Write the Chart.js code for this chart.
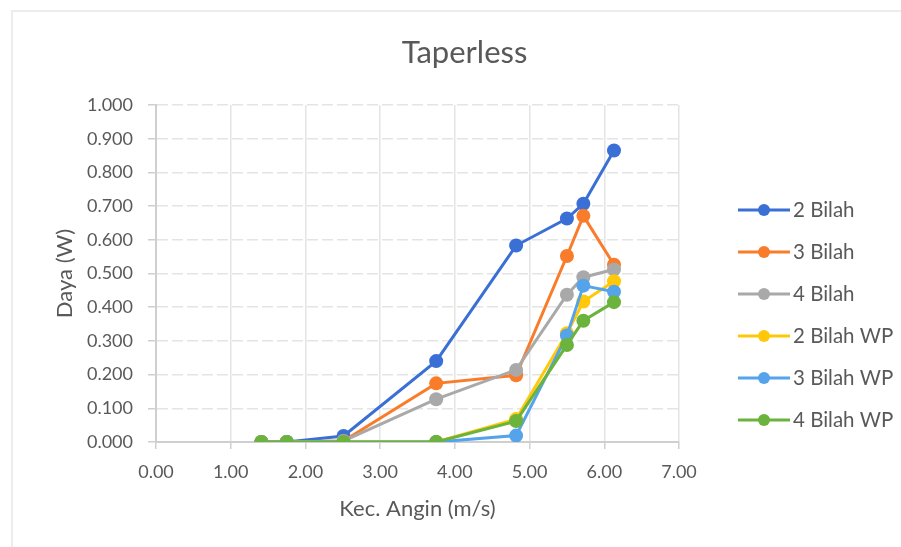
<!DOCTYPE html>
<html>
<head>
<meta charset="utf-8">
<title>Taperless</title>
<script src="https://cdn.jsdelivr.net/npm/chart.js@4.4.0/dist/chart.umd.min.js"></script>
<style>
  html, body { margin: 0; padding: 0; background: #fff; }
  #frame {
    position: absolute; left: 11px; top: 10px; width: 900px; height: 545px;
    border-left: 2px solid #ececec; border-top: 2px solid #ececec;
  }
  #myChart { position: absolute; left: 0; top: 0; }
</style>
</head>
<body>
<div id="frame"></div>
<canvas id="myChart" width="901" height="547"></canvas>
<script>
// wind speed (m/s) for every measurement
const kecAngin = [1.41, 1.75, 2.51, 3.75, 4.82, 5.50, 5.72, 6.13];

// power (W) per blade setup
const bilah2   = [0, 0, 0.018, 0.240, 0.583, 0.663, 0.707, 0.865];
const bilah3   = [0, 0, 0.003, 0.174, 0.198, 0.552, 0.671, 0.526];
const bilah4   = [0, 0, 0.003, 0.127, 0.214, 0.437, 0.489, 0.512];
const bilah2WP = [0, 0, 0, 0, 0.068, 0.323, 0.417, 0.477];
const bilah3WP = [0, 0, 0, 0, 0.019, 0.316, 0.464, 0.446];
const bilah4WP = [0, 0, 0, 0, 0.062, 0.288, 0.360, 0.415];

const seriesNames = ["2 Bilah", "3 Bilah", "4 Bilah", "2 Bilah WP", "3 Bilah WP", "4 Bilah WP"];
const seriesData = [bilah2, bilah3, bilah4, bilah2WP, bilah3WP, bilah4WP];
const colors = ["#3a6fd6", "#f97c2a", "#a9a9a9", "#ffc90a", "#55a3ea", "#6bb33c"];

const textColor = "#595959";
const fontName = "Lato";

// little line+dot pictures for the legend
function makeIcon(color) {
    const c = document.createElement("canvas");
    c.width = 52;
    c.height = 14;
    const g = c.getContext("2d");
    g.strokeStyle = color;
    g.lineWidth = 3;
    g.beginPath();
    g.moveTo(0, 7);
    g.lineTo(52, 7);
    g.stroke();
    g.fillStyle = color;
    g.beginPath();
    g.arc(26, 7, 6, 0, Math.PI * 2);
    g.fill();
    return c;
}
const icons = colors.map(makeIcon);

const datasets = seriesNames.map(function (name, i) {
    return {
        label: name,
        data: kecAngin.map(function (x, j) { return { x: x, y: seriesData[i][j] }; }),
        borderColor: colors[i],
        backgroundColor: colors[i],
        pointBackgroundColor: colors[i],
        pointBorderWidth: 0,
        pointRadius: 7,
        borderWidth: 3,
        showLine: true,
        order: seriesNames.length - 1 - i   // later series on top
    };
});

// keep the legend as wide as excel's and put it where excel had it
const legendPlace = {
    id: "legendPlace",
    beforeLayout(chart) {
        const lg = chart.legend;
        if (lg && !lg._fixedFit) {
            const fit = lg.fit;
            lg.fit = function () {
                fit.call(this);
                this.width = 222;
            };
            lg._fixedFit = true;
        }
    },
    afterLayout(chart) {
        const lg = chart.legend;
        lg.left = 723.75;
        lg.right = 901;
        lg.top = 178.25;
        lg.bottom = 547;
    }
};

const myChart = new Chart(document.getElementById("myChart"), {
    type: "scatter",
    data: { datasets: datasets },
    plugins: [legendPlace],
    options: {
        responsive: false,
        animation: false,
        devicePixelRatio: 1,
        layout: { padding: { left: 28, right: 0, top: 20, bottom: 0 } },
        plugins: {
            tooltip: { enabled: false },
            title: {
                display: true,
                text: "Taperless",
                color: textColor,
                font: { family: fontName, size: 31, weight: "normal" },
                padding: { top: 14.4, bottom: 33.4 }
            },
            legend: {
                position: "right",
                align: "start",
                labels: {
                    color: textColor,
                    font: { family: fontName, size: 20.5 },
                    padding: 21.5,
                    usePointStyle: true,
                    pointStyleWidth: 37.5,
                    sort: function (a, b) { return a.datasetIndex - b.datasetIndex; },
                    generateLabels: function (chart) {
                        const items = Chart.defaults.plugins.legend.labels.generateLabels(chart);
                        items.forEach(function (it) { it.pointStyle = icons[it.datasetIndex]; });
                        return items;
                    }
                }
            }
        },
        scales: {
            x: {
                type: "linear",
                min: 0,
                max: 7,
                afterFit: function (s) { s.height = 105; },
                ticks: {
                    stepSize: 1,
                    padding: 12,
                    color: textColor,
                    font: { family: fontName, size: 18 },
                    callback: function (v) { return v.toFixed(2); }
                },
                grid: {
                    color: function (ctx) { return ctx.tick && ctx.tick.value === 0 ? "rgba(0,0,0,0)" : "#e4e4e4"; },
                    lineWidth: 1.5,
                    tickLength: 7,
                    tickColor: "#cfcfcf",
                    tickWidth: 1.5
                },
                border: { color: "#cfcfcf", width: 2 },
                title: {
                    display: true,
                    text: "Kec. Angin (m/s)",
                    color: textColor,
                    font: { family: fontName, size: 22 },
                    padding: { top: 0, bottom: 24.8 }
                }
            },
            y: {
                min: 0,
                max: 1,
                afterFit: function (s) { s.width = 128; },
                ticks: {
                    stepSize: 0.1,
                    padding: 15,
                    color: textColor,
                    font: { family: fontName, size: 18 },
                    callback: function (v) { return v.toFixed(3); }
                },
                grid: {
                    color: function (ctx) { return ctx.tick && ctx.tick.value === 0 ? "rgba(0,0,0,0)" : "#e4e4e4"; },
                    lineWidth: 1.5,
                    tickLength: 8,
                    tickColor: "#cfcfcf",
                    tickWidth: 1.5
                },
                border: { color: "#cfcfcf", width: 2, dash: [11, 4] },
                title: {
                    display: true,
                    text: "Daya (W)",
                    color: textColor,
                    font: { family: fontName, size: 22 },
                    padding: { top: 23.8, bottom: 0 }
                }
            }
        }
    }
});
</script>
</body>
</html>
